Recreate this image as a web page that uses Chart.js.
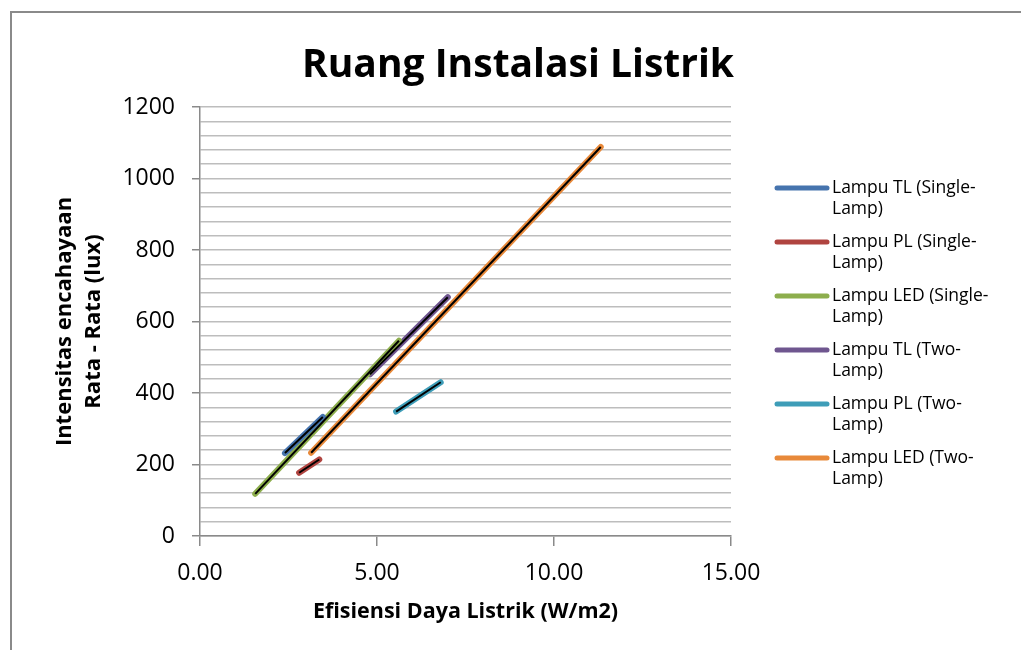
<!DOCTYPE html>
<html>
<head>
<meta charset="utf-8">
<script src="https://cdn.jsdelivr.net/npm/chart.js@4"></script>
<style>
  html, body { margin: 0; padding: 0; background: #fff; }
  canvas { display: block; }
</style>
</head>
<body>
<canvas id="c" width="1021" height="650"></canvas>
<script>
// Series names (legend text)
const seriesNames = [
  'Lampu TL (Single-Lamp)',
  'Lampu PL (Single-Lamp)',
  'Lampu LED (Single-Lamp)',
  'Lampu TL (Two-Lamp)',
  'Lampu PL (Two-Lamp)',
  'Lampu LED (Two-Lamp)'
];

// Efisiensi daya listrik (W/m2) per series
const tlSingleX  = [2.40, 3.47];
const plSingleX  = [2.80, 3.37];
const ledSingleX = [1.56, 5.62];
const tlTwoX     = [4.80, 7.00];
const plTwoX     = [5.54, 6.80];
const ledTwoX    = [3.14, 11.32];

// Intensitas pencahayaan rata-rata (lux) per series
const tlSingleY  = [232, 333];
const plSingleY  = [177, 214];
const ledSingleY = [118, 546];
const tlTwoY     = [452, 668];
const plTwoY     = [348, 430];
const ledTwoY    = [233, 1088];

// Axis tick values
const xTicks = [0, 5, 10, 15];
const yLabelTicks = [0, 200, 400, 600, 800, 1000, 1200];

const seriesColors = ['#4674AE', '#B04440', '#8DAE4D', '#6F568F', '#3E9DB8', '#E8893A'];

const xs = [tlSingleX, plSingleX, ledSingleX, tlTwoX, plTwoX, ledTwoX];
const ys = [tlSingleY, plSingleY, ledSingleY, tlTwoY, plTwoY, ledTwoY];

const FONT = "'Open Sans', 'Liberation Sans', sans-serif";

function toPoints(x, y) { return x.map((v, i) => ({ x: v, y: y[i] })); }

// Linear least-squares trendline over each series' x range
function trend(x, y) {
  const n = x.length;
  const mx = x.reduce((a, b) => a + b, 0) / n;
  const my = y.reduce((a, b) => a + b, 0) / n;
  let sxy = 0, sxx = 0;
  for (let i = 0; i < n; i++) { sxy += (x[i] - mx) * (y[i] - my); sxx += (x[i] - mx) ** 2; }
  const b = sxy / sxx, a = my - b * mx;
  const x0 = Math.min(...x), x1 = Math.max(...x);
  return [{ x: x0, y: a + b * x0 }, { x: x1, y: a + b * x1 }];
}

const datasets = [];
seriesNames.forEach((name, i) => {
  datasets.push({
    label: name,
    data: toPoints(xs[i], ys[i]),
    showLine: true,
    borderColor: seriesColors[i],
    backgroundColor: seriesColors[i],
    borderWidth: 6,
    borderCapStyle: 'round',
    borderJoinStyle: 'round',
    pointRadius: 0,
    order: 1
  });
});
seriesNames.forEach((name, i) => {
  datasets.push({
    label: 'Linear (' + name + ')',
    isTrend: true,
    data: trend(xs[i], ys[i]),
    showLine: true,
    borderColor: '#000',
    borderWidth: 2,
    pointRadius: 0,
    order: 0
  });
});

// Outer frame, chart title and wrapped legend
const decor = {
  id: 'decor',
  beforeDraw(chart) {
    const c = chart.ctx;
    c.save();
    c.strokeStyle = '#8a8a8a';
    c.lineWidth = 2;
    c.beginPath();
    c.moveTo(11, 650); c.lineTo(11, 12); c.lineTo(1021, 12);
    c.stroke();
    c.restore();
  },
  afterDraw(chart) {
    const c = chart.ctx;
    c.save();
    c.fillStyle = '#000';
    c.textAlign = 'center';
    c.textBaseline = 'middle';
    c.font = 'bold 39px ' + FONT;
    c.fillText('Ruang Instalasi Listrik', 518, 66);

    c.font = '17.5px ' + FONT;
    c.textAlign = 'left';
    const maxW = 170;
    chart.data.datasets.forEach((ds, i) => {
      if (ds.isTrend) return;
      const y0 = 188 + i * 54;
      c.strokeStyle = ds.borderColor;
      c.lineWidth = 5;
      c.lineCap = 'round';
      c.beginPath(); c.moveTo(777, y0); c.lineTo(827, y0); c.stroke();
      let lines = [ds.label];
      if (c.measureText(ds.label).width > maxW) {
        const k = ds.label.lastIndexOf('-') + 1;
        lines = [ds.label.slice(0, k), ds.label.slice(k)];
      }
      c.fillStyle = '#000';
      lines.forEach((t, j) => c.fillText(t, 832, y0 + j * 21));
    });
    c.restore();
  }
};

new Chart(document.getElementById('c'), {
  type: 'scatter',
  data: { datasets },
  options: {
    responsive: false,
    animation: false,
    devicePixelRatio: 1,
    layout: { padding: { left: 10, right: 290, top: 107, bottom: 0 } },
    plugins: { legend: { display: false }, title: { display: false }, tooltip: { enabled: false } },
    scales: {
      x: {
        type: 'linear',
        min: 0, max: 15,
        afterFit(s) { s.height = 114; },
        afterBuildTicks(s) { s.ticks = xTicks.map(v => ({ value: v })); },
        ticks: {
          color: '#000',
          font: { family: FONT, size: 23 },
          padding: 14,
          maxRotation: 0,
          callback: v => Number(v).toFixed(2)
        },
        grid: { drawOnChartArea: false, tickLength: 10, color: '#8a8a8a', lineWidth: 1.5 },
        border: { color: '#8a8a8a', width: 1.5 },
        title: {
          display: true,
          text: 'Efisiensi Daya Listrik (W/m2)',
          color: '#000',
          font: { family: FONT, size: 21.5, weight: 'bold' },
          padding: { top: 10, bottom: 25 }
        }
      },
      y: {
        type: 'linear',
        min: 0, max: 1200,
        afterFit(s) { s.width = 190; },
        ticks: {
          stepSize: 40,
          autoSkip: false,
          color: '#000',
          font: { family: FONT, size: 23 },
          padding: 17,
          callback: v => (yLabelTicks.includes(v) ? String(v) : '')
        },
        grid: {
          color: '#bdbdbd',
          lineWidth: 1.5,
          tickLength: 8,
          tickColor: ctx => (ctx.tick && yLabelTicks.includes(ctx.tick.value) ? '#8a8a8a' : 'rgba(0,0,0,0)')
        },
        border: { color: '#8a8a8a', width: 1.5 },
        title: {
          display: true,
          text: ['Intensitas encahayaan', 'Rata - Rata (lux)'],
          color: '#000',
          font: { family: FONT, size: 22, weight: 'bold', lineHeight: 1.32 },
          padding: { top: 40, bottom: 0 }
        }
      }
    }
  },
  plugins: [decor]
});
</script>
</body>
</html>
